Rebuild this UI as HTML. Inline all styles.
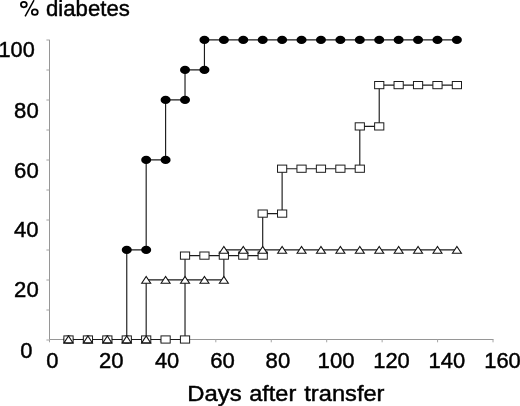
<!DOCTYPE html>
<html><head><meta charset="utf-8"><title>chart</title>
<style>
html,body{margin:0;padding:0;background:#fff;}
body{width:520px;height:406px;overflow:hidden;}
svg{display:block;will-change:transform;}
text{font-family:"Liberation Sans",sans-serif;fill:#000;stroke:#000;stroke-width:0.45px;}
</style></head><body>
<svg width="520" height="406" viewBox="0 0 520 406">
<rect width="520" height="406" fill="#fff"/>

<g stroke="#969696" stroke-width="1" fill="none" shape-rendering="auto">
<line x1="49.5" y1="39.8" x2="49.5" y2="339.5"/>
<line x1="49.5" y1="339.5" x2="493.5" y2="339.5"/>
<line x1="46.4" y1="340" x2="49.5" y2="340" stroke="#a4a4a4"/>
<line x1="46.4" y1="310" x2="49.5" y2="310" stroke="#a4a4a4"/>
<line x1="46.4" y1="280" x2="49.5" y2="280" stroke="#a4a4a4"/>
<line x1="46.4" y1="250" x2="49.5" y2="250" stroke="#a4a4a4"/>
<line x1="46.4" y1="220" x2="49.5" y2="220" stroke="#a4a4a4"/>
<line x1="46.4" y1="190" x2="49.5" y2="190" stroke="#a4a4a4"/>
<line x1="46.4" y1="160" x2="49.5" y2="160" stroke="#a4a4a4"/>
<line x1="46.4" y1="130" x2="49.5" y2="130" stroke="#a4a4a4"/>
<line x1="46.4" y1="100" x2="49.5" y2="100" stroke="#a4a4a4"/>
<line x1="46.4" y1="70" x2="49.5" y2="70" stroke="#a4a4a4"/>
<line x1="46.4" y1="40" x2="49.5" y2="40" stroke="#a4a4a4"/>
<line x1="49.50" y1="339.5" x2="49.50" y2="342.3" stroke="#a4a4a4"/>
<line x1="104.94" y1="339.5" x2="104.94" y2="342.3" stroke="#a4a4a4"/>
<line x1="160.38" y1="339.5" x2="160.38" y2="342.3" stroke="#a4a4a4"/>
<line x1="215.82" y1="339.5" x2="215.82" y2="342.3" stroke="#a4a4a4"/>
<line x1="271.26" y1="339.5" x2="271.26" y2="342.3" stroke="#a4a4a4"/>
<line x1="326.70" y1="339.5" x2="326.70" y2="342.3" stroke="#a4a4a4"/>
<line x1="382.14" y1="339.5" x2="382.14" y2="342.3" stroke="#a4a4a4"/>
<line x1="437.58" y1="339.5" x2="437.58" y2="342.3" stroke="#a4a4a4"/>
<line x1="493.02" y1="339.5" x2="493.02" y2="342.3" stroke="#a4a4a4"/>
</g>
<g stroke="#1c1c1c" stroke-width="1.15" fill="none" stroke-linejoin="miter">
<path d="M68.5,339.5 L87.92,339.5 L107.34,339.5 L126.76,339.5 L126.76,249.9 L146.18,249.9 L146.18,159.9 L165.6,159.9 L165.6,99.9 L185.02,99.9 L185.02,69.9 L204.44,69.9 L204.44,39.9 L223.86,39.9 L243.28,39.9 L262.7,39.9 L282.12,39.9 L301.54,39.9 L320.96,39.9 L340.38,39.9 L359.8,39.9 L379.22,39.9 L398.64,39.9 L418.06,39.9 L437.48,39.9 L456.9,39.9"/>
<path d="M68.5,339.5 L87.92,339.5 L107.34,339.5 L126.76,339.5 L146.18,339.5 L165.6,339.5 L185.02,339.5 L185.02,255.6 L204.44,255.6 L223.86,255.6 L243.28,255.6 L262.7,255.6 L262.7,213.6 L282.12,213.6 L282.12,168.7 L301.54,168.7 L320.96,168.7 L340.38,168.7 L359.8,168.7 L359.8,126.4 L379.22,126.4 L379.22,85.1 L398.64,85.1 L418.06,85.1 L437.48,85.1 L456.9,85.1"/>
<path d="M68.5,339.5 L87.92,339.5 L107.34,339.5 L126.76,339.5 L146.18,339.5 L146.18,279.9 L165.6,279.9 L185.02,279.9 L204.44,279.9 L223.86,279.9 L223.86,249.9 L243.28,249.9 L262.7,249.9 L282.12,249.9 L301.54,249.9 L320.96,249.9 L340.38,249.9 L359.8,249.9 L379.22,249.9 L398.64,249.9 L418.06,249.9 L437.48,249.9 L456.9,249.9"/>
</g>
<g fill="#000">
<ellipse cx="68.5" cy="339.5" rx="5" ry="4.1"/>
<ellipse cx="87.92" cy="339.5" rx="5" ry="4.1"/>
<ellipse cx="107.34" cy="339.5" rx="5" ry="4.1"/>
<ellipse cx="126.76" cy="339.5" rx="5" ry="4.1"/>
<ellipse cx="126.76" cy="249.9" rx="5" ry="4.1"/>
<ellipse cx="146.18" cy="249.9" rx="5" ry="4.1"/>
<ellipse cx="146.18" cy="159.9" rx="5" ry="4.1"/>
<ellipse cx="165.6" cy="159.9" rx="5" ry="4.1"/>
<ellipse cx="165.6" cy="99.9" rx="5" ry="4.1"/>
<ellipse cx="185.02" cy="99.9" rx="5" ry="4.1"/>
<ellipse cx="185.02" cy="69.9" rx="5" ry="4.1"/>
<ellipse cx="204.44" cy="69.9" rx="5" ry="4.1"/>
<ellipse cx="204.44" cy="39.9" rx="5" ry="4.1"/>
<ellipse cx="223.86" cy="39.9" rx="5" ry="4.1"/>
<ellipse cx="243.28" cy="39.9" rx="5" ry="4.1"/>
<ellipse cx="262.7" cy="39.9" rx="5" ry="4.1"/>
<ellipse cx="282.12" cy="39.9" rx="5" ry="4.1"/>
<ellipse cx="301.54" cy="39.9" rx="5" ry="4.1"/>
<ellipse cx="320.96" cy="39.9" rx="5" ry="4.1"/>
<ellipse cx="340.38" cy="39.9" rx="5" ry="4.1"/>
<ellipse cx="359.8" cy="39.9" rx="5" ry="4.1"/>
<ellipse cx="379.22" cy="39.9" rx="5" ry="4.1"/>
<ellipse cx="398.64" cy="39.9" rx="5" ry="4.1"/>
<ellipse cx="418.06" cy="39.9" rx="5" ry="4.1"/>
<ellipse cx="437.48" cy="39.9" rx="5" ry="4.1"/>
<ellipse cx="456.9" cy="39.9" rx="5" ry="4.1"/>
</g>
<g stroke="#1c1c1c" stroke-width="1" fill="#fff">
<rect x="63.90" y="335.90" width="9.2" height="7.2"/>
<rect x="83.32" y="335.90" width="9.2" height="7.2"/>
<rect x="102.74" y="335.90" width="9.2" height="7.2"/>
<rect x="122.16" y="335.90" width="9.2" height="7.2"/>
<rect x="141.58" y="335.90" width="9.2" height="7.2"/>
<rect x="161.00" y="335.90" width="9.2" height="7.2"/>
<rect x="180.42" y="335.90" width="9.2" height="7.2"/>
<rect x="180.42" y="252.00" width="9.2" height="7.2"/>
<rect x="199.84" y="252.00" width="9.2" height="7.2"/>
<rect x="219.26" y="252.00" width="9.2" height="7.2"/>
<rect x="238.68" y="252.00" width="9.2" height="7.2"/>
<rect x="258.10" y="252.00" width="9.2" height="7.2"/>
<rect x="258.10" y="210.00" width="9.2" height="7.2"/>
<rect x="277.52" y="210.00" width="9.2" height="7.2"/>
<rect x="277.52" y="165.10" width="9.2" height="7.2"/>
<rect x="296.94" y="165.10" width="9.2" height="7.2"/>
<rect x="316.36" y="165.10" width="9.2" height="7.2"/>
<rect x="335.78" y="165.10" width="9.2" height="7.2"/>
<rect x="355.20" y="165.10" width="9.2" height="7.2"/>
<rect x="355.20" y="122.80" width="9.2" height="7.2"/>
<rect x="374.62" y="122.80" width="9.2" height="7.2"/>
<rect x="374.62" y="81.50" width="9.2" height="7.2"/>
<rect x="394.04" y="81.50" width="9.2" height="7.2"/>
<rect x="413.46" y="81.50" width="9.2" height="7.2"/>
<rect x="432.88" y="81.50" width="9.2" height="7.2"/>
<rect x="452.30" y="81.50" width="9.2" height="7.2"/>
</g>
<g stroke="#111" stroke-width="1.1" fill="#fff" stroke-linejoin="miter">
<path d="M64.00,342.90 L68.50,336.00 L73.00,342.90 Z"/>
<path d="M83.42,342.90 L87.92,336.00 L92.42,342.90 Z"/>
<path d="M102.84,342.90 L107.34,336.00 L111.84,342.90 Z"/>
<path d="M122.26,342.90 L126.76,336.00 L131.26,342.90 Z"/>
<path d="M141.68,342.90 L146.18,336.00 L150.68,342.90 Z"/>
<path d="M141.68,283.30 L146.18,276.40 L150.68,283.30 Z"/>
<path d="M161.10,283.30 L165.60,276.40 L170.10,283.30 Z"/>
<path d="M180.52,283.30 L185.02,276.40 L189.52,283.30 Z"/>
<path d="M199.94,283.30 L204.44,276.40 L208.94,283.30 Z"/>
<path d="M219.36,283.30 L223.86,276.40 L228.36,283.30 Z"/>
<path d="M219.36,253.30 L223.86,246.40 L228.36,253.30 Z"/>
<path d="M238.78,253.30 L243.28,246.40 L247.78,253.30 Z"/>
<path d="M258.20,253.30 L262.70,246.40 L267.20,253.30 Z"/>
<path d="M277.62,253.30 L282.12,246.40 L286.62,253.30 Z"/>
<path d="M297.04,253.30 L301.54,246.40 L306.04,253.30 Z"/>
<path d="M316.46,253.30 L320.96,246.40 L325.46,253.30 Z"/>
<path d="M335.88,253.30 L340.38,246.40 L344.88,253.30 Z"/>
<path d="M355.30,253.30 L359.80,246.40 L364.30,253.30 Z"/>
<path d="M374.72,253.30 L379.22,246.40 L383.72,253.30 Z"/>
<path d="M394.14,253.30 L398.64,246.40 L403.14,253.30 Z"/>
<path d="M413.56,253.30 L418.06,246.40 L422.56,253.30 Z"/>
<path d="M432.98,253.30 L437.48,246.40 L441.98,253.30 Z"/>
<path d="M452.40,253.30 L456.90,246.40 L461.40,253.30 Z"/>
</g>
<g fill="none" stroke="#000"><ellipse cx="23.85" cy="4.6" rx="2.95" ry="2.7" stroke-width="1.75"/><ellipse cx="34.8" cy="12.15" rx="2.95" ry="2.7" stroke-width="1.75"/><line x1="34" y1="0.2" x2="25.1" y2="16.3" stroke-width="1.5"/></g>
<text x="46" y="15.7" font-size="22.3" textLength="83.8" lengthAdjust="spacingAndGlyphs">diabetes</text>
<text x="-1.5" y="57.2" font-size="22.5" textLength="36.2" lengthAdjust="spacingAndGlyphs" >100</text>
<text x="14.1" y="118.2" font-size="22.5" textLength="24.6" lengthAdjust="spacingAndGlyphs" >80</text>
<text x="14.1" y="177.9" font-size="22.5" textLength="24.6" lengthAdjust="spacingAndGlyphs" >60</text>
<text x="13.9" y="237" font-size="22.5" textLength="24.6" lengthAdjust="spacingAndGlyphs" >40</text>
<text x="14.1" y="297.3" font-size="22.5" textLength="24.6" lengthAdjust="spacingAndGlyphs" >20</text>
<text x="20.2" y="357.8" font-size="22.5" textLength="12.2" lengthAdjust="spacingAndGlyphs" >0</text>
<text x="46.2" y="368.0" font-size="22.5" textLength="12.2" lengthAdjust="spacingAndGlyphs" >0</text>
<text x="99" y="368.0" font-size="22.5" textLength="24.6" lengthAdjust="spacingAndGlyphs" >20</text>
<text x="154.9" y="368.0" font-size="22.5" textLength="24.3" lengthAdjust="spacingAndGlyphs" >40</text>
<text x="210.2" y="368.0" font-size="22.5" textLength="24.6" lengthAdjust="spacingAndGlyphs" >60</text>
<text x="265.6" y="368.0" font-size="22.5" textLength="24.6" lengthAdjust="spacingAndGlyphs" >80</text>
<text x="317.6" y="368.0" font-size="22.5" textLength="37" lengthAdjust="spacingAndGlyphs" >100</text>
<text x="373.2" y="368.0" font-size="22.5" textLength="36.6" lengthAdjust="spacingAndGlyphs" >120</text>
<text x="428.5" y="368.0" font-size="22.5" textLength="36.6" lengthAdjust="spacingAndGlyphs" >140</text>
<text x="484.2" y="368.0" font-size="22.5" textLength="36.6" lengthAdjust="spacingAndGlyphs" >160</text>
<text x="187.2" y="400.5" font-size="22.6" textLength="54.4" lengthAdjust="spacingAndGlyphs" >Days</text>
<text x="249.2" y="400.5" font-size="22.6" textLength="47.1" lengthAdjust="spacingAndGlyphs" >after</text>
<text x="304.3" y="400.5" font-size="22.6" textLength="80.2" lengthAdjust="spacingAndGlyphs" >transfer</text>
</svg></body></html>
